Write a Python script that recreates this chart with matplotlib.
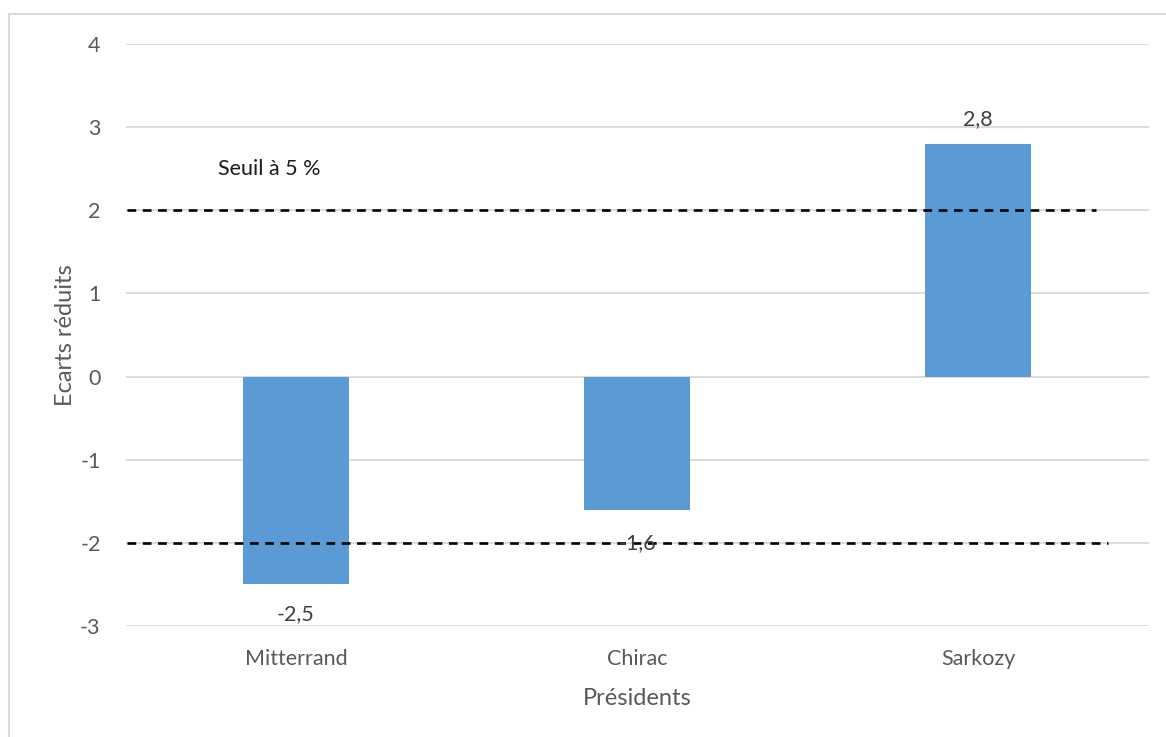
import matplotlib
matplotlib.use("Agg")
import matplotlib.pyplot as plt
from matplotlib.patches import Rectangle

presidents = ["Mitterrand", "Chirac", "Sarkozy"]
ecarts = [-2.5, -1.6, 2.8]
labels = ["-2,5", "-1,6", "2,8"]
seuils = [2, -2]
y_ticks = [-3, -2, -1, 0, 1, 2, 3, 4]

plt.rcParams['font.family'] = ['Lato', 'DejaVu Sans']

W, H = 1166, 737
fig = plt.figure(figsize=(W / 100, H / 100), dpi=100)
ax = fig.add_axes([125.5 / W, 1 - 626 / H, (1148.5 - 125.5) / W, (626 - 44) / H])

grey = "#595959"
x = list(range(len(presidents)))
ax.bar(x, ecarts, width=0.31, color="#5B9BD5", zorder=2)

ax.set_xlim(-0.5, 2.5)
ax.set_ylim(-3, 4)
ax.set_yticks(y_ticks)
ax.set_yticklabels([str(v) for v in y_ticks])
ax.set_xticks(x)
ax.set_xticklabels(presidents)
ax.grid(axis='y', color="#d9d9d9", linewidth=1.3, zorder=0)
ax.tick_params(axis='both', length=0, labelsize=15.5, colors=grey)
ax.tick_params(axis='y', pad=18)
ax.tick_params(axis='x', pad=16.5)
for s in ax.spines.values():
    s.set_visible(False)

label_offsets = [-21, -24, 18]  # points
for xi, v, lab, off in zip(x, ecarts, labels, label_offsets):
    ax.annotate(lab, (xi, v), xytext=(0, off), textcoords='offset points',
                ha='center', va='center', fontsize=15.5, color="#404040", zorder=4)

# threshold dashed lines
ax.plot([-0.497, 2.347], [seuils[0], seuils[0]], color='black', linestyle=(0, (3.3, 2.5)),
        linewidth=1.9, zorder=3)
ax.plot([-0.497, 2.38], [seuils[1], seuils[1]], color='black', linestyle=(0, (3.3, 2.5)),
        linewidth=1.9, zorder=3)
ax.text(-0.23, 2.5, "Seuil à 5 %", fontsize=15.5, color="#1a1a1a", ha='left', va='center')

ax.set_ylabel("Ecarts réduits", fontsize=17, color=grey, labelpad=3)
ax.set_xlabel("Présidents", fontsize=17, color=grey, labelpad=14)

# chart border (top/left visible)
fig.patches.append(Rectangle((9 / W, -0.1), 1.2, 1.1 - 14 / H, transform=fig.transFigure,
                             fill=False, edgecolor="#d9d9d9", linewidth=1.5))

fig.savefig("out.png", dpi=100)
